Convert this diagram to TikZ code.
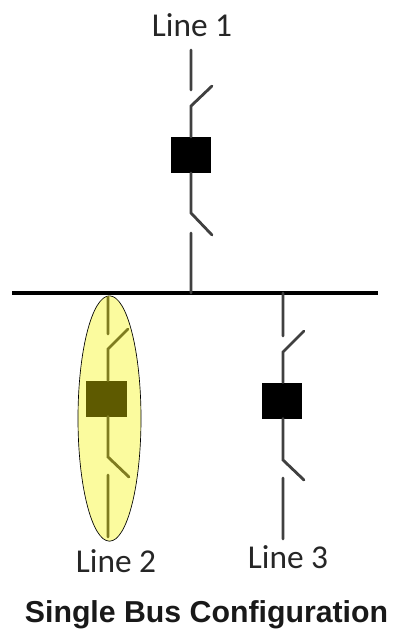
\documentclass[tikz,border=0pt]{standalone}
\usepackage{fontspec}
\setmainfont{Carlito}
\newfontfamily\capfont{Liberation Sans}
\usetikzlibrary{shapes.geometric}
\definecolor{hl}{HTML}{FBFB9E}
\definecolor{hldark}{HTML}{5E5A00}
\definecolor{hlline}{HTML}{7F7C20}
\tikzset{
  x=0.75pt,y=-0.75pt,
  wire/.style={line width=2.1pt,color=black!75,line cap=round},
  bkr/.style={draw=none,fill=black,minimum width=30pt,minimum height=27pt,inner sep=0pt,outer sep=0pt},
  lbl/.style={font=\fontsize{25}{28}\selectfont,text=black!85,inner sep=0pt},
}
\begin{document}
\begin{tikzpicture}
\useasboundingbox (0,0) rectangle (398,637);
\fill[white] (0,0) rectangle (398,637);
% highlight
\node[ellipse,draw=black,line width=0.5pt,fill=hl,minimum width=47.25pt,minimum height=184pt,inner sep=0pt] (hlell) at (109.5,418.5) {};
% bus
\coordinate (busL) at (12,293);
\coordinate (busR) at (378,293);
\draw[line width=2.6pt,black] (busL) -- (busR);
% Line 1
\node[bkr] (b1) at (190.5,155) {};
\coordinate (a1) at (191,50); \coordinate (a2) at (191,90);
\coordinate (a3) at (191,106); \coordinate (a4) at (212,86);
\coordinate (a5) at (191,213); \coordinate (a6) at (212,235);
\coordinate (a7) at (191,233); \coordinate (a8) at (191,293);
\draw[wire] (a1) -- ([xshift=0.05pt]a2);
\draw[wire] (a4) -- (a3) -- (a3 |- b1.north);
\draw[wire] (a5 |- b1.south) -- (a5) -- (a6);
\draw[wire] (a7) -- ([xshift=0.05pt]a8);
% Line 2
\node[bkr,fill=hldark,minimum width=31pt] (b2) at (106.5,398.5) {};
\coordinate (c1) at (108,297); \coordinate (c2) at (108,334);
\coordinate (c3) at (108,349); \coordinate (c4) at (128,329);
\coordinate (c5) at (108,457); \coordinate (c6) at (129,477);
\coordinate (c7) at (108,475); \coordinate (c8) at (108,537);
\draw[wire,hlline] (c1) -- ([xshift=0.05pt]c2);
\draw[wire,hlline] (c4) -- (c3) -- (c3 |- b2.north);
\draw[wire,hlline] (c5 |- b2.south) -- (c5) -- (c6);
\draw[wire,hlline] (c7) -- ([xshift=0.05pt]c8);
% Line 3
\node[bkr] (b3) at (282,400.5) {};
\coordinate (d1) at (283,293); \coordinate (d2) at (283,336);
\coordinate (d3) at (283,352); \coordinate (d4) at (304,331);
\coordinate (d5) at (283,460); \coordinate (d6) at (304,480);
\coordinate (d7) at (283,478); \coordinate (d8) at (283,539);
\draw[wire] (d1) -- ([xshift=0.05pt]d2);
\draw[wire] (d4) -- (d3) -- (d3 |- b3.north);
\draw[wire] (d5 |- b3.south) -- (d5) -- (d6);
\draw[wire] (d7) -- ([xshift=0.05pt]d8);
% labels
\node[lbl] (t1) at (192,25) {Line 1};
\node[lbl] (t2) at (116,561) {Line 2};
\node[lbl] (t3) at (288,557) {Line 3};
\node[inner sep=0pt,text=black!90] (cap) at (206.5,615) {\capfont\bfseries\fontsize{22.7}{26}\selectfont Single Bus Configuration};
\end{tikzpicture}
\end{document}
